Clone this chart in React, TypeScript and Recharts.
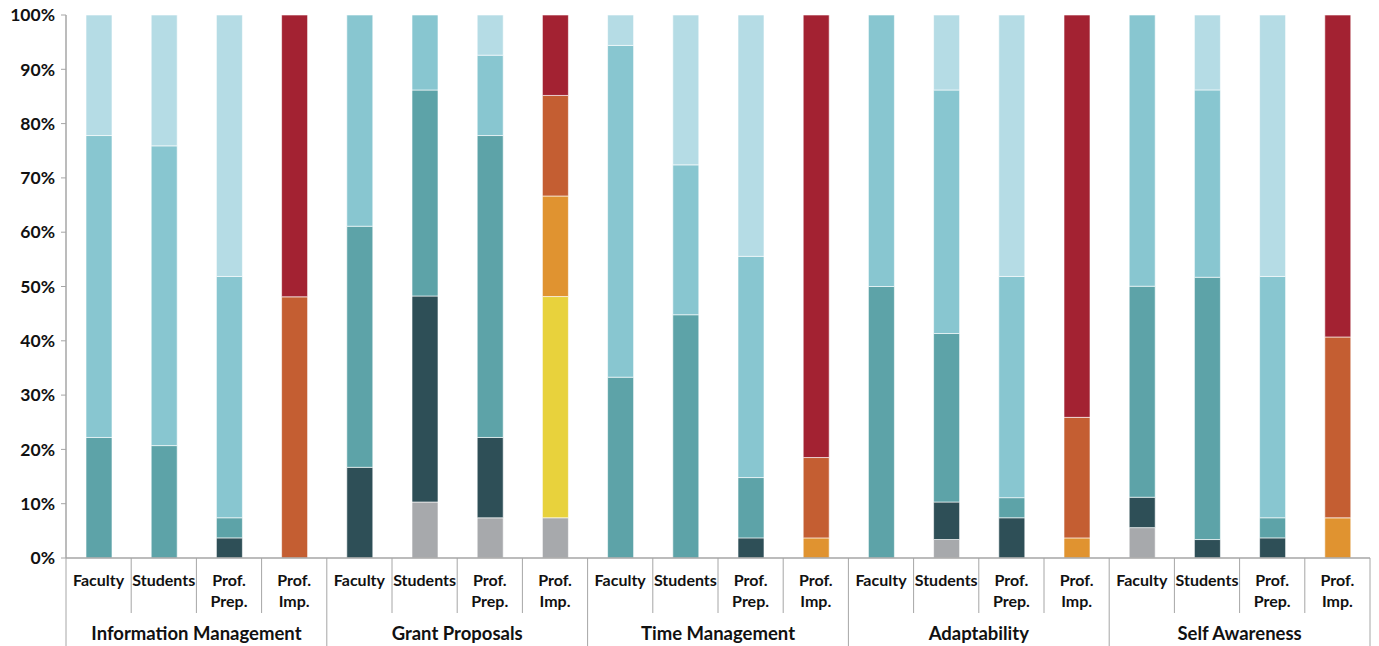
import React from "react";
import { BarChart, Bar, XAxis, YAxis, Cell } from "recharts";

const groups = ["Information Management", "Grant Proposals", "Time Management", "Adaptability", "Self Awareness"];
const roles = ["Faculty", "Students", "Prof.\nPrep.", "Prof.\nImp."];

// level values (percent) per bar, bottom to top, 5 response levels
const level1 = [0, 0, 0, 0, 0, 10.3, 7.4, 7.4, 0, 0, 0, 0, 0, 3.4, 0, 0, 5.6, 0, 0, 0];
const level2 = [0, 0, 3.7, 0, 16.7, 37.9, 14.8, 40.7, 0, 0, 3.7, 0, 0, 6.9, 7.4, 0, 5.6, 3.4, 3.7, 0];
const level3 = [22.2, 20.7, 3.7, 0, 44.4, 37.9, 55.6, 18.5, 33.3, 44.8, 11.1, 3.7, 50, 31.0, 3.7, 3.7, 38.9, 48.3, 3.7, 7.4];
const level4 = [55.6, 55.2, 44.4, 48.1, 38.9, 13.8, 14.8, 18.5, 61.1, 27.6, 40.7, 14.8, 50, 44.8, 40.7, 22.2, 50, 34.5, 44.4, 33.3];
const level5 = [22.2, 24.1, 48.1, 51.9, 0, 0, 7.4, 14.8, 5.6, 27.6, 44.4, 81.5, 0, 13.8, 48.1, 74.1, 0, 13.8, 48.1, 59.3];

const yTicks = [0, 0.1, 0.2, 0.3, 0.4, 0.5, 0.6, 0.7, 0.8, 0.9, 1];

const tealColors = ["#A7A9AC", "#2E4F57", "#5DA3A8", "#88C6D0", "#B5DCE5"];
const warmColors = ["#A7A9AC", "#E8D23C", "#E09330", "#C45E32", "#A32232"];

const data = level1.map((_, i) => ({
  id: String(i),
  group: groups[Math.floor(i / 4)],
  role: roles[i % 4],
  l1: level1[i],
  l2: level2[i],
  l3: level3[i],
  l4: level4[i],
  l5: level5[i],
}));

const W = 1379;
const H = 646;
const M = { top: 15, right: 9, left: 0, bottom: 0 };
const YW = 66;
const XH = 88;
const BAND = (W - YW - M.right) / data.length;
const FONT = "Lato, 'Liberation Sans', sans-serif";
const SEP = "#A6A6A6";

const CatTick = (props: any) => {
  const { x, y, payload } = props;
  const i = Number(payload.value);
  const d = data[i];
  const lines = d.role.split("\n");
  const left = x - BAND / 2;
  const right = x + BAND / 2;
  return (
    <g>
      <line x1={left} x2={left} y1={y} y2={y + (i % 4 === 0 ? XH : 55)} stroke={SEP} strokeWidth={1} />
      {i === data.length - 1 && (
        <line x1={right} x2={right} y1={y} y2={y + XH} stroke={SEP} strokeWidth={1} />
      )}
      {lines.map((t: string, k: number) => (
        <text
          key={k}
          x={x}
          y={y + 28 + k * 21}
          textAnchor="middle"
          fontFamily={FONT}
          fontWeight="bold"
          fontSize={16}
          fill="#111"
        >
          {t}
        </text>
      ))}
      {i % 4 === 1 && (
        <text
          x={right}
          y={y + 82}
          textAnchor="middle"
          fontFamily={FONT}
          fontWeight="bold"
          fontSize={18.5}
          fill="#111"
        >
          {d.group}
        </text>
      )}
    </g>
  );
};

const keys = ["l1", "l2", "l3", "l4", "l5"];

export default function App() {
  return (
    <div style={{ position: "absolute", left: 0, top: 0, background: "#fff" }}>
      <BarChart
        width={W}
        height={H}
        data={data}
        margin={M}
        stackOffset="expand"
        barSize={26}
      >
        <XAxis
          dataKey="id"
          height={XH}
          interval={0}
          tick={<CatTick />}
          tickLine={false}
          tickSize={0}
          tickMargin={0}
          axisLine={{ stroke: SEP, strokeWidth: 1.5 }}
        />
        <YAxis
          width={YW}
          domain={[0, 1]}
          ticks={yTicks}
          tickFormatter={(v: number) => `${Math.round(v * 100)}%`}
          tick={{ fontFamily: FONT, fontWeight: "bold", fontSize: 17.5, fill: "#111" }}
          tickSize={5}
          tickMargin={6}
          tickLine={{ stroke: SEP }}
          axisLine={{ stroke: SEP, strokeWidth: 1.5 }}
          interval={0}
        />
        {keys.map((k, li) => (
          <Bar key={k} dataKey={k} stackId="a" isAnimationActive={false} stroke="#fff" strokeWidth={0.6}>
            {data.map((d, i) => (
              <Cell key={i} fill={i % 4 === 3 ? warmColors[li] : tealColors[li]} />
            ))}
          </Bar>
        ))}
      </BarChart>
    </div>
  );
}
